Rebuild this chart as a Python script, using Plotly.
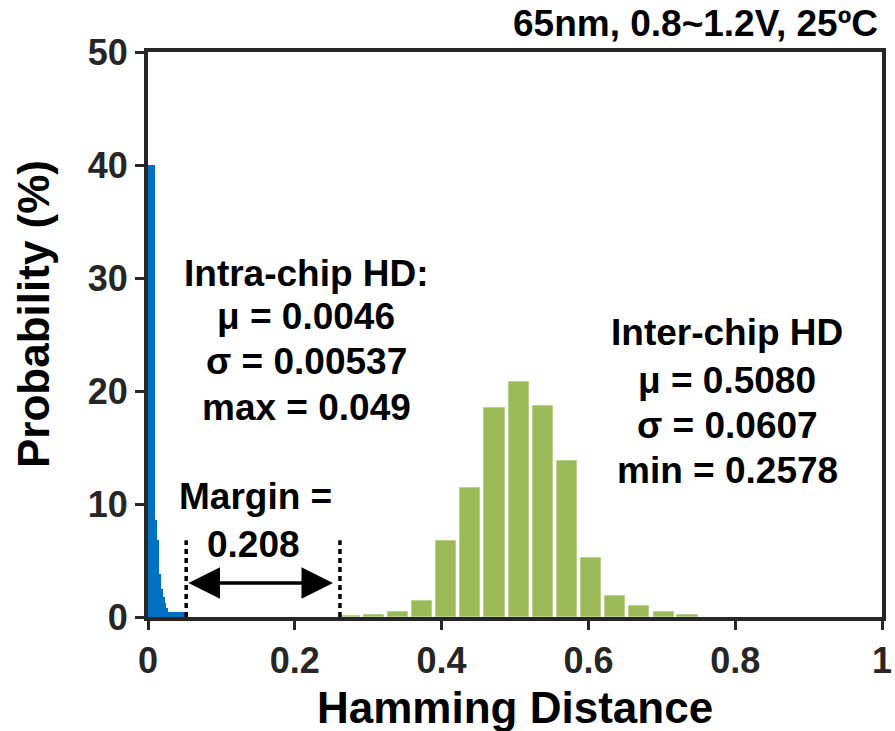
import plotly.graph_objects as go

# ---------------- data ----------------
# Intra-chip HD histogram (fine bins)
intra_hd = [0.00125, 0.00375, 0.00625, 0.00875, 0.01125, 0.01375, 0.01625,
            0.01875, 0.02125, 0.02375, 0.02625, 0.02875, 0.03125, 0.03375,
            0.03625, 0.03875, 0.04125, 0.04375, 0.04625, 0.04875, 0.05125,
            0.05375]
intra_prob = [40.0, 40.0, 40.0, 40.0, 8.6, 6.8, 3.8, 2.5, 1.8, 1.25, 0.8,
              0.45, 0.45, 0.45, 0.45, 0.45, 0.45, 0.45, 0.45, 0.45, 0.45, 0.45]

# Inter-chip HD histogram
inter_hd = [0.2752, 0.3079, 0.3409, 0.3737, 0.4064, 0.4391, 0.4721, 0.5050,
            0.5377, 0.5706, 0.6033, 0.6365, 0.6693, 0.7026, 0.7350]
inter_prob = [0.12, 0.18, 0.42, 1.4, 6.75, 11.4, 18.5, 20.8, 18.7, 13.8,
              5.2, 1.86, 1.0, 0.44, 0.2]

x_ticks = [0, 0.2, 0.4, 0.6, 0.8, 1]
x_tick_labels = ["0", "0.2", "0.4", "0.6", "0.8", "1"]
y_ticks = [0, 10, 20, 30, 40, 50]
y_tick_labels = ["0", "10", "20", "30", "40", "50"]

intra_text = ["Intra-chip HD:", "μ = 0.0046", "σ = 0.00537", "max = 0.049"]
inter_text = ["Inter-chip HD", "μ = 0.5080", "σ = 0.0607", "min = 0.2578"]
margin_text = ["Margin =", "0.208"]
cond_text = "65nm, 0.8~1.2V, 25ºC"
x_title = "Hamming Distance"
y_title = "Probability (%)"

margin_left = 0.052
margin_right = 0.2615

# ---------------- style ----------------
FONT = "Liberation Sans, Arial, sans-serif"
AXC = "#262626"

fig = go.Figure()
fig.add_trace(go.Bar(x=intra_hd, y=intra_prob, width=0.0026,
                     marker=dict(color="#0070C0", line=dict(width=0)),
                     showlegend=False))
fig.add_trace(go.Bar(x=inter_hd, y=inter_prob, width=0.0275,
                     marker=dict(color="#9BBB59",
                                 line=dict(color="#B9D08A", width=1)),
                     showlegend=False))

ann = []
def txt(s, x, y, size=37, xref="x", yref="y", xanchor="center", angle=0):
    ann.append(dict(text=s, x=x, y=y, xref=xref, yref=yref, showarrow=False,
                    xanchor=xanchor, yanchor="middle", textangle=angle,
                    font=dict(family=FONT, size=size, color="black",
                              weight="bold")))

intra_y = [30.44, 26.55, 22.57, 18.58]
for s, yy in zip(intra_text, intra_y):
    txt(s, 0.2153, yy)
inter_y = [25.22, 20.97, 16.99, 13.0]
for s, yy in zip(inter_text, inter_y):
    txt(s, 0.789, yy)
txt(margin_text[0], 0.147, 10.62)
txt(margin_text[1], 0.144, 6.42)

txt(cond_text, 0.997, 1.0496, size=37, xref="paper", yref="paper",
    xanchor="right")
txt(x_title, 0.5, -0.1593, size=44, xref="paper", yref="paper")
txt(y_title, -0.1553, 0.5363, size=44, xref="paper", yref="paper", angle=-90)

# double-headed arrow
ann.append(dict(text="", x=margin_right - 0.0095, y=3.0, ax=margin_left + 0.0011,
                ay=3.0, xref="x", yref="y", axref="x", ayref="y",
                showarrow=True, arrowhead=2, startarrowhead=2,
                arrowside="end+start", arrowwidth=3.5, arrowsize=1.8,
                startarrowsize=1.8, arrowcolor="black", standoff=0,
                startstandoff=0))

shapes = []
for xv in (margin_left, margin_right):
    shapes.append(dict(type="line", x0=xv, x1=xv, y0=0, y1=6.8, xref="x",
                       yref="y",
                       line=dict(color="black", width=3.5, dash="5px,4px")))

fig.update_layout(
    width=895, height=731,
    margin=dict(l=148, r=13, t=52, b=114, autoexpand=False),
    paper_bgcolor="white", plot_bgcolor="white",
    barmode="overlay", bargap=0,
    annotations=ann, shapes=shapes,
    font=dict(family=FONT, color=AXC),
)
fig.update_xaxes(range=[0, 1], tickvals=x_ticks, ticktext=x_tick_labels,
                 automargin=False,
                 showgrid=False, zeroline=False, showline=True, mirror=True,
                 linecolor=AXC, linewidth=4, ticks="outside", ticklen=9,
                 tickwidth=3, tickcolor=AXC,
                 tickfont=dict(family=FONT, size=36, color=AXC, weight="bold"))
fig.update_yaxes(range=[0, 50], tickvals=y_ticks, ticktext=y_tick_labels,
                 automargin=False,
                 showgrid=False, zeroline=False, showline=True, mirror=True,
                 linecolor=AXC, linewidth=4, ticks="outside", ticklen=9,
                 tickwidth=3, tickcolor=AXC,
                 tickfont=dict(family=FONT, size=36, color=AXC, weight="bold"))

fig.write_html("out.html")
